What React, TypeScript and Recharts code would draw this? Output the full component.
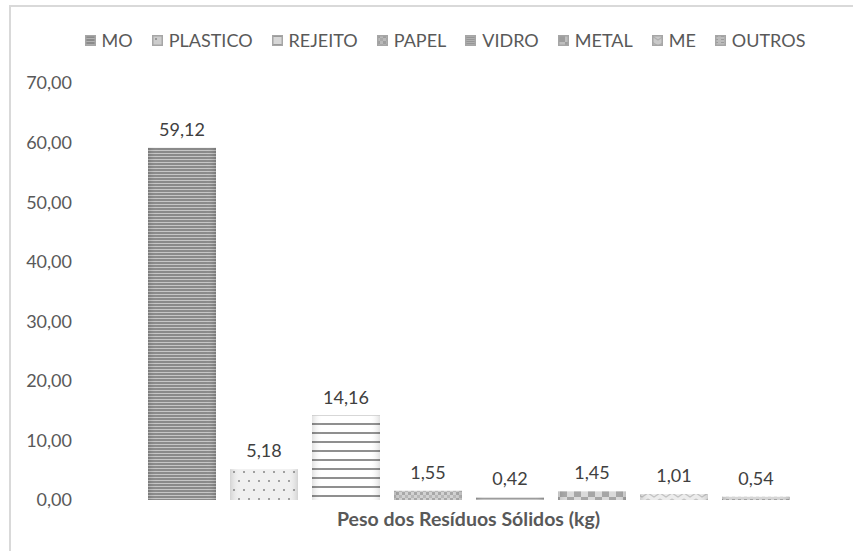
import React from "react";
import { Bar, BarChart, LabelList, Legend, XAxis, YAxis } from "recharts";

const categories = ["Peso dos Resíduos Sólidos (kg)"];
const seriesNames = ["MO", "PLASTICO", "REJEITO", "PAPEL", "VIDRO", "METAL", "ME", "OUTROS"];
const seriesValues = [59.12, 5.18, 14.16, 1.55, 0.42, 1.45, 1.01, 0.54];
const yTicks = [0, 10, 20, 30, 40, 50, 60, 70];

const patternIds = ["p-mo", "p-plastico", "p-rejeito", "p-papel", "p-vidro", "p-metal", "p-me", "p-outros"];

const data = categories.map((name) => {
  const row: Record<string, string | number> = { name };
  seriesNames.forEach((s, i) => {
    row[s] = seriesValues[i];
  });
  return row;
});

const fmt = (v: any) => Number(v).toFixed(2).replace(".", ",");
const FONT = "Lato, 'Open Sans', sans-serif";

function Patterns() {
  return (
    <svg width={0} height={0} style={{ position: "absolute" }}>
      <defs>
        <pattern id="p-mo" width="4" height="3" patternUnits="userSpaceOnUse">
          <rect width="4" height="3" fill="#8a8a8a" />
          <rect width="4" height="1" fill="#c6c6c6" />
        </pattern>
        <pattern id="p-plastico" width="10" height="18" patternUnits="userSpaceOnUse">
          <rect width="10" height="18" fill="#f0f0f0" />
          <rect x="3" y="3" width="2" height="2" fill="#a0a0a0" />
          <rect x="8" y="12" width="2" height="2" fill="#a0a0a0" />
        </pattern>
        <pattern id="p-rejeito" width="4" height="9" patternUnits="userSpaceOnUse">
          <rect width="4" height="9" fill="#ffffff" />
          <rect width="4" height="2" fill="#8f8f8f" />
        </pattern>
        <pattern id="p-papel" width="6" height="6" patternUnits="userSpaceOnUse">
          <rect width="6" height="6" fill="#d2d2d2" />
          <rect width="3" height="3" fill="#a8a8a8" />
          <rect x="3" y="3" width="3" height="3" fill="#b8b8b8" />
        </pattern>
        <pattern id="p-vidro" width="4" height="2" patternUnits="userSpaceOnUse">
          <rect width="4" height="2" fill="#c4c4c4" />
          <rect width="4" height="1" fill="#9c9c9c" />
        </pattern>
        <pattern id="p-metal" width="14" height="14" patternUnits="userSpaceOnUse">
          <rect width="14" height="14" fill="#dadada" />
          <rect width="7" height="7" fill="#a6a6a6" />
          <rect x="7" y="7" width="7" height="7" fill="#a6a6a6" />
        </pattern>
        <pattern id="p-me" width="12" height="6" patternUnits="userSpaceOnUse">
          <rect width="12" height="6" fill="#ececec" />
          <polyline points="0,1 6,5 12,1" fill="none" stroke="#c2c2c2" strokeWidth="1.2" />
        </pattern>
        <pattern id="p-outros" width="6" height="3" patternUnits="userSpaceOnUse">
          <rect width="6" height="3" fill="#d6d6d6" />
          <rect y="1" width="3" height="1" fill="#a4a4a4" />
        </pattern>
        <linearGradient id="shade" x1="0" y1="0" x2="1" y2="0">
          <stop offset="0" stopColor="#000" stopOpacity="0.12" />
          <stop offset="0.15" stopColor="#fff" stopOpacity="0" />
          <stop offset="0.85" stopColor="#fff" stopOpacity="0" />
          <stop offset="1" stopColor="#000" stopOpacity="0.12" />
        </linearGradient>
      </defs>
    </svg>
  );
}

const PatternBar = (props: any) => {
  const { x, y, width, height, fill } = props;
  if (!height || height <= 0) return null;
  return (
    <g>
      <rect x={x} y={y} width={width} height={height} fill={fill} />
      <rect x={x} y={y} width={width} height={height} fill="url(#shade)" />
    </g>
  );
};

const renderLegend = () => (
  <div
    style={{
      display: "flex",
      justifyContent: "center",
      gap: 19,
      fontFamily: FONT,
      fontSize: 18,
      color: "#595959",
      lineHeight: "20px",
    }}
  >
    {seriesNames.map((s, i) => (
      <span key={s} style={{ display: "flex", alignItems: "center" }}>
        <svg width={11} height={11} style={{ marginRight: 6 }}>
          <rect width={11} height={11} fill={`url(#${patternIds[i]})`} />
          <rect x={0.75} y={0.75} width={9.5} height={9.5} fill="#8c8c8c" fillOpacity={0.35} stroke="#a6a6a6" strokeWidth={1.5} />
        </svg>
        {s}
      </span>
    ))}
  </div>
);

export default function App() {
  return (
    <div style={{ position: "absolute", left: 0, top: 0, width: 853, height: 551, overflow: "hidden", background: "#fff" }}>
      <Patterns />
      <div
        style={{
          position: "absolute",
          left: 9,
          top: 5,
          width: 900,
          height: 600,
          border: "2px solid #d9d9d9",
        }}
      />
      <div style={{ position: "absolute", left: 0, top: 0 }}>
        <BarChart
          width={853}
          height={551}
          data={data}
          barGap={14}
          margin={{ top: 83, right: 16, left: 0, bottom: 0 }}
        >
          <XAxis
            dataKey="name"
            axisLine={false}
            tickLine={false}
            tickSize={0}
            tickMargin={12}
            height={51}
            tick={{ fill: "#595959", fontSize: 19.5, fontWeight: 700, fontFamily: FONT }}
          />
          <YAxis
            domain={[0, 70]}
            ticks={yTicks}
            tickFormatter={fmt}
            axisLine={false}
            tickLine={false}
            tickSize={0}
            tickMargin={28}
            width={100}
            tick={{ fill: "#595959", fontSize: 18, fontFamily: FONT }}
          />
          <Legend
            layout="horizontal"
            verticalAlign="middle"
            align="center"
            content={renderLegend}
            wrapperStyle={{ top: 30, left: 0, width: 890 }}
          />
          {seriesNames.map((s, i) => (
            <Bar
              key={s}
              dataKey={s}
              fill={`url(#${patternIds[i]})`}
              barSize={68}
              shape={PatternBar}
              isAnimationActive={false}
            >
              <LabelList
                dataKey={s}
                position="top"
                offset={12}
                formatter={fmt}
                fill="#404040"
                fontSize={18}
                fontFamily={FONT}
              />
            </Bar>
          ))}
        </BarChart>
      </div>
    </div>
  );
}
